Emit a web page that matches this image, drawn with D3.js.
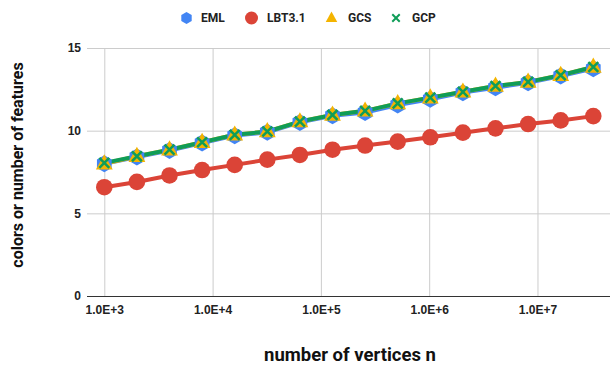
<!DOCTYPE html>
<html>
<head>
<meta charset="utf-8">
<script src="https://cdn.jsdelivr.net/npm/d3@7"></script>
<style>
  html, body { margin: 0; padding: 0; background: #fff; }
  svg { display: block; font-family: Roboto, "Noto Sans", sans-serif; }
</style>
</head>
<body>
<svg id="chart" width="610" height="366"></svg>
<script>
// Number of vertices n (doubling from 1,000)
const nValues = [1000, 2000, 4000, 8000, 16000, 32000, 64000, 128000, 256000,
  512000, 1024000, 2048000, 4096000, 8192000, 16384000, 32768000];

// Colors / number of features per algorithm
const emlValues = [8.0, 8.4, 8.8, 9.25, 9.7, 9.9, 10.5, 10.9, 11.1, 11.55, 11.9, 12.3, 12.6, 12.9, 13.3, 13.75];
const lbtValues = [6.58, 6.9, 7.29, 7.62, 7.93, 8.25, 8.53, 8.85, 9.1, 9.34, 9.6, 9.88, 10.14, 10.4, 10.62, 10.88];
const gcsValues = [8.0, 8.45, 8.85, 9.3, 9.75, 9.95, 10.55, 10.95, 11.2, 11.65, 12.0, 12.35, 12.7, 12.95, 13.35, 13.85];
const gcpValues = [8.05, 8.45, 8.85, 9.3, 9.75, 9.95, 10.55, 10.95, 11.2, 11.65, 12.0, 12.35, 12.7, 12.95, 13.35, 13.85];

const seriesNames = ["EML", "LBT3.1", "GCS", "GCP"];
const seriesColors = ["#4285F4", "#DB4437", "#F4B400", "#0F9D58"];
const seriesShapes = ["hexagon", "circle", "triangle", "cross"];
const seriesValues = [emlValues, lbtValues, gcsValues, gcpValues];

const xTickValues = [1e3, 1e4, 1e5, 1e6, 1e7];
const xTickLabels = ["1.0E+3", "1.0E+4", "1.0E+5", "1.0E+6", "1.0E+7"];
const yTickValues = [0, 5, 10, 15];

const svg = d3.select("#chart");

const plot = { left: 87, right: 610, top: 48, bottom: 296 };

const x = d3.scaleLog()
  .domain([1000, 32768000])
  .range([104.3, 593.3]);

const y = d3.scaleLinear()
  .domain([0, 15])
  .range([plot.bottom, plot.top]);

// Horizontal gridlines and y tick labels
const yAxis = d3.axisLeft(y)
  .tickValues(yTickValues)
  .tickSize(-(plot.right - plot.left))
  .tickPadding(6)
  .tickFormat(d3.format("d"));

const gy = svg.append("g")
  .attr("transform", `translate(${plot.left},0)`)
  .call(yAxis);
gy.select(".domain").remove();
gy.selectAll(".tick line").attr("stroke", "#cccccc").attr("stroke-width", 1);
gy.selectAll(".tick text")
  .attr("fill", "#222")
  .attr("font-size", 12)
  .attr("font-weight", "bold");

// Vertical gridlines and x tick labels
const xAxis = d3.axisBottom(x)
  .tickValues(xTickValues)
  .tickSize(-(plot.bottom - plot.top))
  .tickPadding(9)
  .tickFormat((d, i) => xTickLabels[i]);

const gx = svg.append("g")
  .attr("transform", `translate(0,${plot.bottom})`)
  .call(xAxis);
gx.select(".domain").remove();
gx.selectAll(".tick line").attr("stroke", "#cccccc").attr("stroke-width", 1);
gx.selectAll(".tick text")
  .attr("fill", "#222")
  .attr("font-size", 12)
  .attr("font-weight", "bold");

// Zero baseline drawn above the vertical gridlines
svg.append("line")
  .attr("x1", plot.left)
  .attr("x2", plot.right)
  .attr("y1", y(0) + 0.5)
  .attr("y2", y(0) + 0.5)
  .attr("stroke", "#333")
  .attr("stroke-width", 1.2);

// Marker shapes
function markerPath(shape, r) {
  if (shape === "hexagon") {
    const pts = d3.range(6).map(i => {
      const a = (-90 + 60 * i) * Math.PI / 180;
      return [r * Math.cos(a), r * Math.sin(a)];
    });
    return "M" + pts.map(p => p.join(",")).join("L") + "Z";
  }
  if (shape === "triangle") {
    const h = r * 1.9;
    return `M0,${-h * 0.62}L${r * 1.05},${h * 0.38}L${-r * 1.05},${h * 0.38}Z`;
  }
  if (shape === "cross") {
    const s = r * 0.62;
    return `M${-s},${-s}L${s},${s}M${s},${-s}L${-s},${s}`;
  }
  return d3.symbol(d3.symbolCircle, Math.PI * r * r)();
}

const line = d3.line()
  .x(d => x(d[0]))
  .y(d => y(d[1]));

const seriesData = seriesValues.map(vals => nValues.map((n, i) => [n, vals[i]]));

// Lines first, then markers on top
const gLines = svg.append("g");
seriesData.forEach((data, s) => {
  gLines.append("path")
    .datum(data)
    .attr("fill", "none")
    .attr("stroke", seriesColors[s])
    .attr("stroke-width", 4)
    .attr("stroke-linejoin", "round")
    .attr("d", line);
});

const markerRadius = [8.5, 8.3, 8, 8];
const gMarks = svg.append("g");
seriesData.forEach((data, s) => {
  const shape = seriesShapes[s];
  gMarks.append("g")
    .selectAll("path")
    .data(data)
    .join("path")
    .attr("transform", d => `translate(${x(d[0])},${y(d[1])})`)
    .attr("d", markerPath(shape, markerRadius[s]))
    .attr("fill", shape === "cross" ? "none" : seriesColors[s])
    .attr("stroke", shape === "cross" ? seriesColors[s] : "none")
    .attr("stroke-width", shape === "cross" ? 2.5 : 0);
});

// Legend
const legendItems = [
  { sym: 186.5, text: 201 },
  { sym: 251.5, text: 267 },
  { sym: 331.5, text: 348 },
  { sym: 396, text: 412 }
];
const legendY = 18;
const gLegend = svg.append("g");
legendItems.forEach((item, s) => {
  const shape = seriesShapes[s];
  const r = shape === "circle" ? 6.5 : 6;
  gLegend.append("path")
    .attr("transform", `translate(${item.sym},${legendY})`)
    .attr("d", markerPath(shape, shape === "triangle" ? 5.5 : r))
    .attr("fill", shape === "cross" ? "none" : seriesColors[s])
    .attr("stroke", shape === "cross" ? seriesColors[s] : "none")
    .attr("stroke-width", shape === "cross" ? 2 : 0);
  gLegend.append("text")
    .attr("x", item.text)
    .attr("y", legendY)
    .attr("dy", "0.36em")
    .attr("font-size", 12)
    .attr("font-weight", "bold")
    .attr("fill", "#222")
    .text(seriesNames[s]);
});

// Axis titles
svg.append("text")
  .attr("x", 350)
  .attr("y", 361)
  .attr("text-anchor", "middle")
  .attr("font-size", 18.5)
  .attr("font-weight", "bold")
  .attr("fill", "#111")
  .text("number of vertices n");

svg.append("text")
  .attr("transform", "translate(23,165) rotate(-90)")
  .attr("text-anchor", "middle")
  .attr("font-size", 16)
  .attr("font-weight", "bold")
  .attr("fill", "#111")
  .text("colors or number of features");
</script>
</body>
</html>
